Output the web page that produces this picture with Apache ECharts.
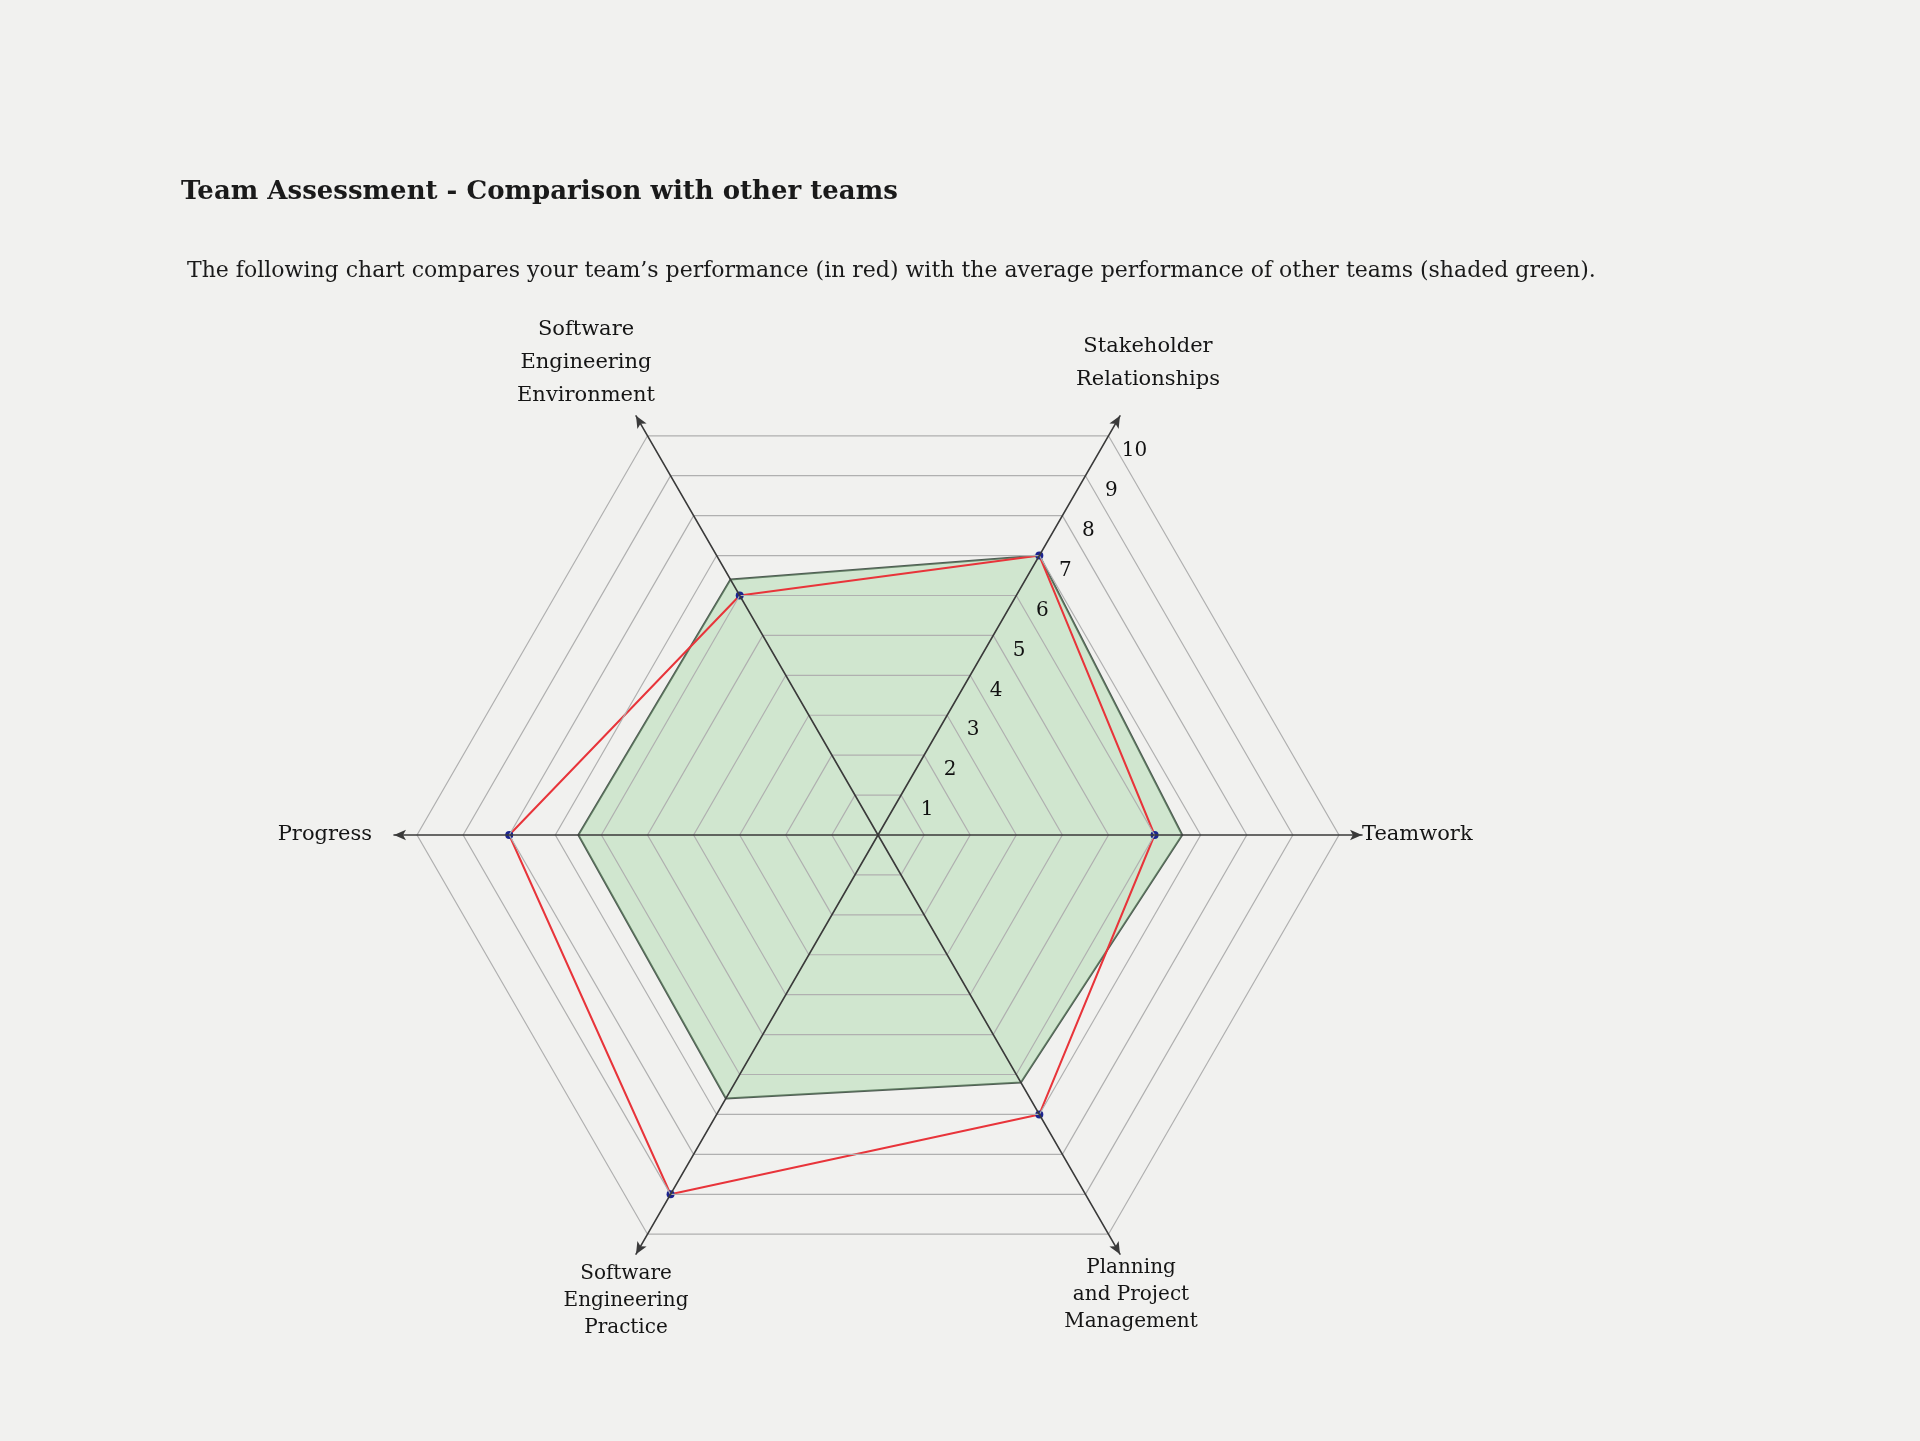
<!DOCTYPE html>
<html>
<head>
<meta charset="utf-8">
<script src="https://cdn.jsdelivr.net/npm/echarts@6/dist/echarts.min.js"></script>
<style>
html,body{margin:0;padding:0;background:#f1f1ef;}
#chart{width:1920px;height:1441px;}
</style>
</head>
<body>
<div id="chart"></div>
<script>
// ---- data ----
const titleText = 'Team Assessment - Comparison with other teams';
const descriptionText = 'The following chart compares your team\u2019s performance (in red) with the average performance of other teams (shaded green).';
const indicatorNames = [
  'Stakeholder\nRelationships',
  'Software\nEngineering\nEnvironment',
  'Progress',
  'Software\nEngineering\nPractice',
  'Planning\nand Project\nManagement',
  'Teamwork'
];
const tickLabels = [1, 2, 3, 4, 5, 6, 7, 8, 9, 10];
const axisMax = 10.5;
const yourTeam = [7, 6, 8, 9, 7, 6];
const otherTeams = [7, 6.4, 6.5, 6.6, 6.2, 6.6];

// ---- chart ----
const serif = 'DejaVu Serif';
const nameStyles = [
  { align: 'center', verticalAlign: 'bottom', padding: [0, 0, 20, 56], lineHeight: 33, fontSize: 21 },
  { align: 'center', verticalAlign: 'bottom', padding: [0, 100, 4, 0], lineHeight: 33, fontSize: 21 },
  { align: 'right', verticalAlign: 'middle', padding: [0, 22, 0, 0], fontSize: 21 },
  { align: 'center', verticalAlign: 'top', padding: [6, 20, 0, 0], lineHeight: 27, fontSize: 20 },
  { align: 'center', verticalAlign: 'top', padding: [0, 0, 0, 22], lineHeight: 27, fontSize: 20 },
  { align: 'left', verticalAlign: 'middle', padding: [0, 0, 0, 0], fontSize: 21 }
];
const indicators = indicatorNames.map((n, i) => {
  const ind = { name: n, min: 0, max: axisMax, nameTextStyle: nameStyles[i] };
  if (i === 0) {
    ind.axisLabel = {
      show: true,
      color: '#111111',
      fontFamily: serif,
      fontSize: 20,
      margin: -30,
      align: 'center',
      verticalAlign: 'middle',
      formatter: function (v) {
        const r = Math.round(v);
        return (Math.abs(v - r) < 1e-6 && tickLabels.indexOf(r) >= 0) ? String(r) : '';
      }
    };
  }
  return ind;
});

const chart = echarts.init(document.getElementById('chart'), null, { renderer: 'canvas' });
chart.setOption({
  animation: false,
  backgroundColor: '#f1f1ef',
  title: [
    { text: titleText, left: 176, top: 174,
      textStyle: { fontFamily: serif, fontSize: 26, fontWeight: 'bold', color: '#1a1a1a' } },
    { text: descriptionText, left: 182, top: 255,
      textStyle: { fontFamily: serif, fontSize: 22, fontWeight: 'normal', color: '#1a1a1a' } }
  ],
  radar: {
    z: 3,
    center: [878, 835],
    radius: 484,
    startAngle: 60,
    shape: 'polygon',
    splitNumber: 21,
    nameGap: 0,
    axisName: { color: '#151515', fontFamily: serif, fontSize: 21, lineHeight: 30 },
    axisLine: { show: true, symbol: ['none', 'arrow'], symbolSize: [8, 12],
      lineStyle: { color: '#3a3a3a', width: 1.6 } },
    axisTick: { show: false },
    axisLabel: { show: false },
    splitLine: { show: true, lineStyle: { color: ['#b0b0b0', 'rgba(0,0,0,0)'], width: 1.2 } },
    splitArea: { show: false },
    indicator: indicators
  },
  series: [{
    type: 'radar',
    z: 2,
    silent: true,
    data: [
      { name: 'Other teams (average)', value: otherTeams, symbol: 'none',
        lineStyle: { color: '#4f5b53', width: 2 },
        areaStyle: { color: 'rgba(140, 208, 140, 0.45)' } },
      { name: 'Your team', value: yourTeam, symbol: 'circle', symbolSize: 8,
        itemStyle: { color: '#1c2490' },
        lineStyle: { color: '#e8343a', width: 2 } }
    ]
  }]
});
</script>
</body>
</html>
